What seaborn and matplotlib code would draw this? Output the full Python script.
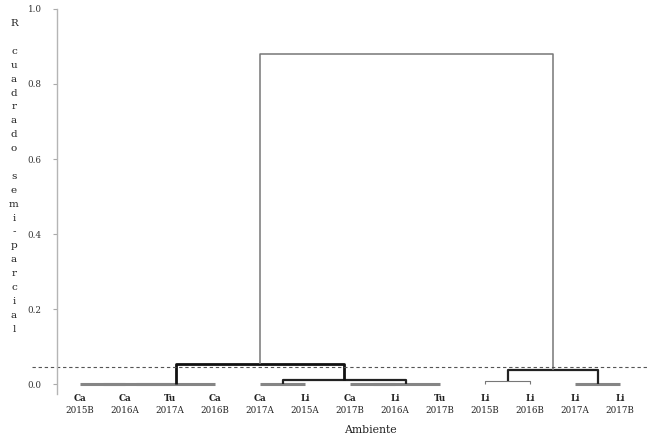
import matplotlib
matplotlib.use("Agg")
import matplotlib.pyplot as plt
import seaborn as sns
import pandas as pd

# Leaves (order along the x axis)
groups = ["Ca", "Ca", "Tu", "Ca", "Ca", "Li", "Ca", "Li", "Tu", "Li", "Li", "Li", "Li"]
years = ["2015B", "2016A", "2017A", "2016B", "2017A", "2015A", "2017B", "2016A",
         "2017B", "2015B", "2016B", "2017A", "2017B"]

# Linkage (scipy style: cluster n+i is created by merge i)
merge_left = [0, 13, 14, 4, 6, 17, 16, 15, 9, 11, 21, 20]
merge_right = [1, 2, 3, 5, 7, 8, 18, 19, 10, 12, 22, 23]
merge_height = [0.0, 0.0, 0.0, 0.0, 0.0, 0.0, 0.012, 0.053, 0.008, 0.0, 0.037, 0.880]

cut_height = 0.045

y_ticks = [0.0, 0.2, 0.4, 0.6, 0.8, 1.0]
y_label = "R cuadrado semi-parcial"
x_label = "Ambiente"

sns.set_theme(style="white")
plt.rcParams["font.family"] = ["DejaVu Serif"]

fig = plt.figure(figsize=(6.5, 4.41), dpi=100)
ax = fig.add_axes([0.0877, 0.1077, 0.9093, 0.872])

# positions / heights of every cluster
n = len(groups)
pos = {i: float(i) for i in range(n)}
hgt = {i: 0.0 for i in range(n)}
segs = []
for i, (a, b, h) in enumerate(zip(merge_left, merge_right, merge_height)):
    segs.append(pd.DataFrame({
        "x": [pos[a], pos[a], pos[b], pos[b]],
        "y": [hgt[a], h, h, hgt[b]],
    }))
    pos[n + i] = (pos[a] + pos[b]) / 2
    hgt[n + i] = h


def seg_style(h):
    if h == 0.0:
        return "#858585", 2.2
    if h > 0.5:
        return "#777777", 1.1
    if h > 0.05:
        return "#111111", 2.0
    if h < 0.01:
        return "#777777", 0.8
    return "#222222", 1.6


for df, h in zip(segs, merge_height):
    c, lw = seg_style(h)
    sns.lineplot(data=df, x="x", y="y", sort=False, estimator=None,
                 color=c, linewidth=lw, ax=ax, solid_capstyle="butt")

ax.axhline(cut_height, xmin=-0.042, xmax=1.0, clip_on=False,
           color="#555555", linewidth=0.8, linestyle=(0, (3, 2.5)))

ax.set_xlim(-0.511, n - 1 + 0.62)
ax.set_ylim(-0.025, 1.0)
ax.set_yticks(y_ticks)
ax.set_yticklabels([f"{v:.1f}" for v in y_ticks], fontsize=6.3, color="#333333")
ax.tick_params(axis="y", left=True, length=3, width=0.8, color="#aaaaaa", pad=8)
ax.set_xticks([])
ax.set_xlabel("")
ax.set_ylabel("")

for s in ["top", "right", "bottom"]:
    ax.spines[s].set_visible(False)
ax.spines["left"].set_color("#b5b5b5")
ax.spines["left"].set_linewidth(1.0)

# leaf labels
for i, (g, yr) in enumerate(zip(groups, years)):
    ax.annotate(g, xy=(i, 0), xycoords=("data", "axes fraction"),
                xytext=(0, -3.3), textcoords="offset points",
                ha="center", va="center", fontsize=6.3, fontweight="bold",
                color="#222222")
    ax.annotate(yr, xy=(i, 0), xycoords=("data", "axes fraction"),
                xytext=(0, -12), textcoords="offset points",
                ha="center", va="center", fontsize=6.3, color="#222222")

fig.text(370 / 650, 1 - 430 / 441, x_label, ha="center", va="center",
         fontsize=7.8, color="#222222")

fig.text(14 / 650, 1 - 19 / 441, "\n".join(y_label), ha="center", va="top",
         fontsize=7.5, linespacing=1.70, color="#222222")

fig.savefig("out.png", dpi=100, facecolor="white")
